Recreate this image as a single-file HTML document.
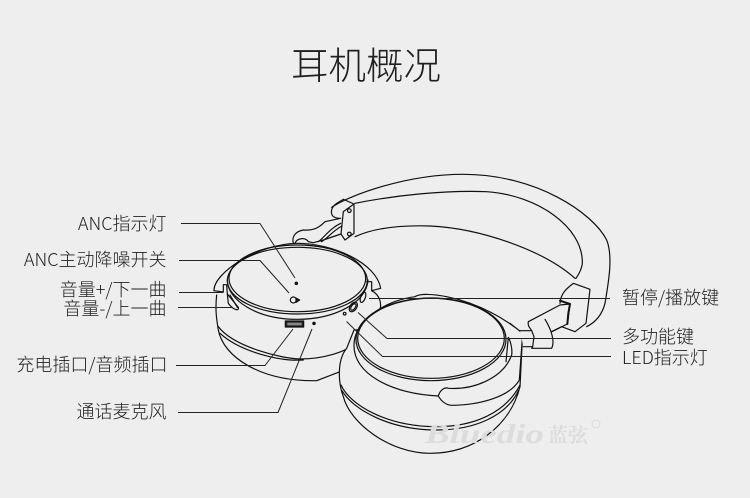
<!DOCTYPE html>
<html><head><meta charset="utf-8">
<style>
html,body{margin:0;padding:0;background:#eeeeee;width:750px;height:498px;overflow:hidden}
svg{display:block}
text{font-family:"Liberation Sans","Noto Sans CJK SC",sans-serif}
.l{font-family:"Noto Sans CJK SC",sans-serif;font-size:18px;fill:#222;font-weight:300}
</style></head><body>
<svg width="750" height="498" viewBox="0 0 750 498" xmlns="http://www.w3.org/2000/svg">
<rect width="750" height="498" fill="#eeeeee"/>
<text x="366" y="79" text-anchor="middle" font-size="37.5" font-weight="300" fill="#1f1f1f" style="font-family:'Noto Sans CJK SC',sans-serif">耳机概况</text>

<text class="l" x="166.5" y="230" text-anchor="end">ANC指示灯</text>
<text class="l" x="166.5" y="266" text-anchor="end">ANC主动降噪开关</text>
<text class="l" x="166.5" y="296" text-anchor="end">音量+/下一曲</text>
<text class="l" x="166.5" y="315" text-anchor="end">音量-/上一曲</text>
<text class="l" x="167.5" y="371" text-anchor="end">充电插口/音频插口</text>
<text class="l" x="166.5" y="418" text-anchor="end">通话麦克风</text>
<text class="l" x="622" y="304">暂停/播放键</text>
<text class="l" x="622" y="343">多功能键</text>
<text class="l" x="622" y="364">LED指示灯</text>

<!-- headband -->
<g transform="translate(330,170) scale(.33333)" fill="none" stroke="#111" stroke-width="3.6" stroke-linejoin="round" stroke-linecap="round">
<path d="M5,112 C60,75 230,13 400,13 C620,13 790,130 830,210 C850,260 835,340 825,400 C815,440 790,460 770,470"/>
<path d="M75,100 C200,75 350,60 470,65 C620,75 760,170 757,280 C755,300 745,315 738,325"/>
<path d="M75,200 C130,175 210,165 300,168 C450,175 640,240 735,325"/>
</g>

<!-- left hinge -->
<g transform="translate(280,190) scale(.33333)" fill="none" stroke="#111" stroke-width="3.6" stroke-linejoin="round" stroke-linecap="round">
<path d="M190,28 L222,42 L222,130 L195,150 L183,132 L190,65 L222,42"/>
<path d="M190,28 L170,40 C158,48 152,60 155,72 C158,82 170,85 182,85 L135,95 C115,115 100,122 70,120 C45,125 35,140 40,160"/>
<circle cx="208" cy="62" r="5.5"/><circle cx="208" cy="132" r="5.5"/>
<path d="M183,132 L130,150 L100,158 L85,155"/>
<path d="M182,100 C150,115 130,145 115,155 M186,108 C158,122 140,148 124,155"/>
<path d="M45,160 C50,145 75,140 85,155"/>
</g>

<!-- left cup -->
<g transform="translate(190,170) scale(.33333)" fill="none" stroke="#111" stroke-width="3.6" stroke-linejoin="round" stroke-linecap="round">
<path d="M72,362 C70,310 200,222 322,220 C430,220 560,280 572,355 L545,362"/>
<path d="M72,362 L100,366"/>
<path d="M100,366 L100,344 L110,344 L112,372"/>
<path d="M530,335 L545,335 L545,362"/>
<ellipse cx="322" cy="325" rx="205" ry="100"/>
<ellipse cx="322" cy="332" rx="210" ry="100"/>
<path d="M112,330 C112,390 200,448 322,448 C430,448 530,400 534,330"/>
<path d="M112,372 L145,412 C148,425 130,420 115,400 Z"/>
<path d="M120,375 L142,412"/>
<ellipse cx="490" cy="411" rx="10" ry="16" transform="rotate(35 490 411)"/>
<ellipse cx="490" cy="411" rx="6" ry="11" transform="rotate(35 490 411)"/>
<ellipse cx="519" cy="382" rx="7" ry="16" transform="rotate(20 519 382)"/>
<circle cx="464" cy="431" r="4"/>
<circle cx="372" cy="460" r="3.5" fill="#222"/>
<circle cx="319" cy="340" r="3.5" fill="#222"/>
<circle cx="310" cy="390" r="9"/><path d="M318,384 L329,390 L318,397 Z" fill="#222"/>
<rect x="286" y="453" width="55" height="18" fill="#222"/>
<rect x="292" y="458" width="43" height="8" fill="#888" stroke="none"/>
<path d="M80,375 C75,420 80,450 85,480 C100,560 210,635 380,632 L450,605"/>
<path d="M545,362 C570,375 575,400 570,420"/>
<path d="M85,470 C130,530 270,565 330,567 C400,567 470,545 495,520"/>
<path d="M90,490 C150,545 270,575 340,570"/>
</g>

<!-- right cup -->
<g transform="translate(330,290) scale(.33333)" fill="#eeeeee" stroke="#111" stroke-width="3.6" stroke-linejoin="round" stroke-linecap="round">
<path d="M50,175 C20,210 25,280 40,320 C60,400 180,490 300,490 C430,490 540,410 570,290 L578,130 L540,100 L72,120 Z"/>
<path fill="none" d="M33,285 C60,345 170,410 320,410 C430,410 525,370 570,285"/>
<path fill="none" d="M36,302 C70,360 180,420 320,420 C430,420 530,380 566,300"/>
<path d="M72,165 C70,250 180,310 325,318 C335,335 350,345 365,346 C450,345 540,320 568,270 L578,130 C530,90 450,40 350,20 C310,12 270,10 255,20 C170,30 72,90 72,165 Z"/>
<path fill="none" d="M325,318 C330,300 345,290 355,295 C430,300 520,265 545,195 C548,175 540,150 535,142 L528,215"/>
<ellipse cx="303" cy="148" rx="225" ry="124" fill="none"/>
<ellipse cx="303" cy="145" rx="220" ry="120"/>
</g>

<!-- right hinge -->
<g transform="translate(510,280) scale(.33333)" fill="none" stroke="#111" stroke-width="3.6" stroke-linejoin="round" stroke-linecap="round">
<path d="M190,10 C170,25 152,40 150,70 M190,10 L240,28 L228,130 L195,155 L155,140 L125,155"/>
<path d="M30,152 L65,152 L72,170 L68,200 L40,200" fill="#eeeeee"/>
<path d="M55,125 L150,75 L180,72 L172,132 L125,155 M55,125 C52,140 62,145 65,152 M68,200 L65,205 L125,205 C135,185 125,150 105,118"/>
<path d="M150,62 L180,72 L175,100 L172,132" stroke-width="6"/>
</g>

<!-- watermark (over the drawing) -->
<text x="425" y="443" font-size="27" font-weight="bold" font-style="italic" fill="#dcdcdc" style="font-family:'Liberation Serif',serif" textLength="119" lengthAdjust="spacingAndGlyphs">Bluedio</text>
<text x="548" y="442" font-size="20" font-weight="bold" fill="#dcdcdc" style="font-family:'Noto Serif CJK SC',serif">蓝弦</text>
<circle cx="596" cy="424" r="4" fill="none" stroke="#dcdcdc" stroke-width="1"/>

<!-- leader lines -->
<g fill="none" stroke="#222" stroke-width="1" stroke-linejoin="round">
<path d="M181,223.5 H260 L295,278"/>
<path d="M179,260.5 H260 L289,293"/>
<path d="M179,292.5 H223"/>
<path d="M178,307.5 H232"/>
<path d="M176,365.5 H265 L293,329"/>
<path d="M178,412.5 H278 L312,329"/>
<path d="M369,298.5 H610"/>
<path d="M358,312.5 L387,338.5 H611"/>
<path d="M346.5,321.5 L382.5,356.5 H611"/>
</g>
</svg>
</body></html>
